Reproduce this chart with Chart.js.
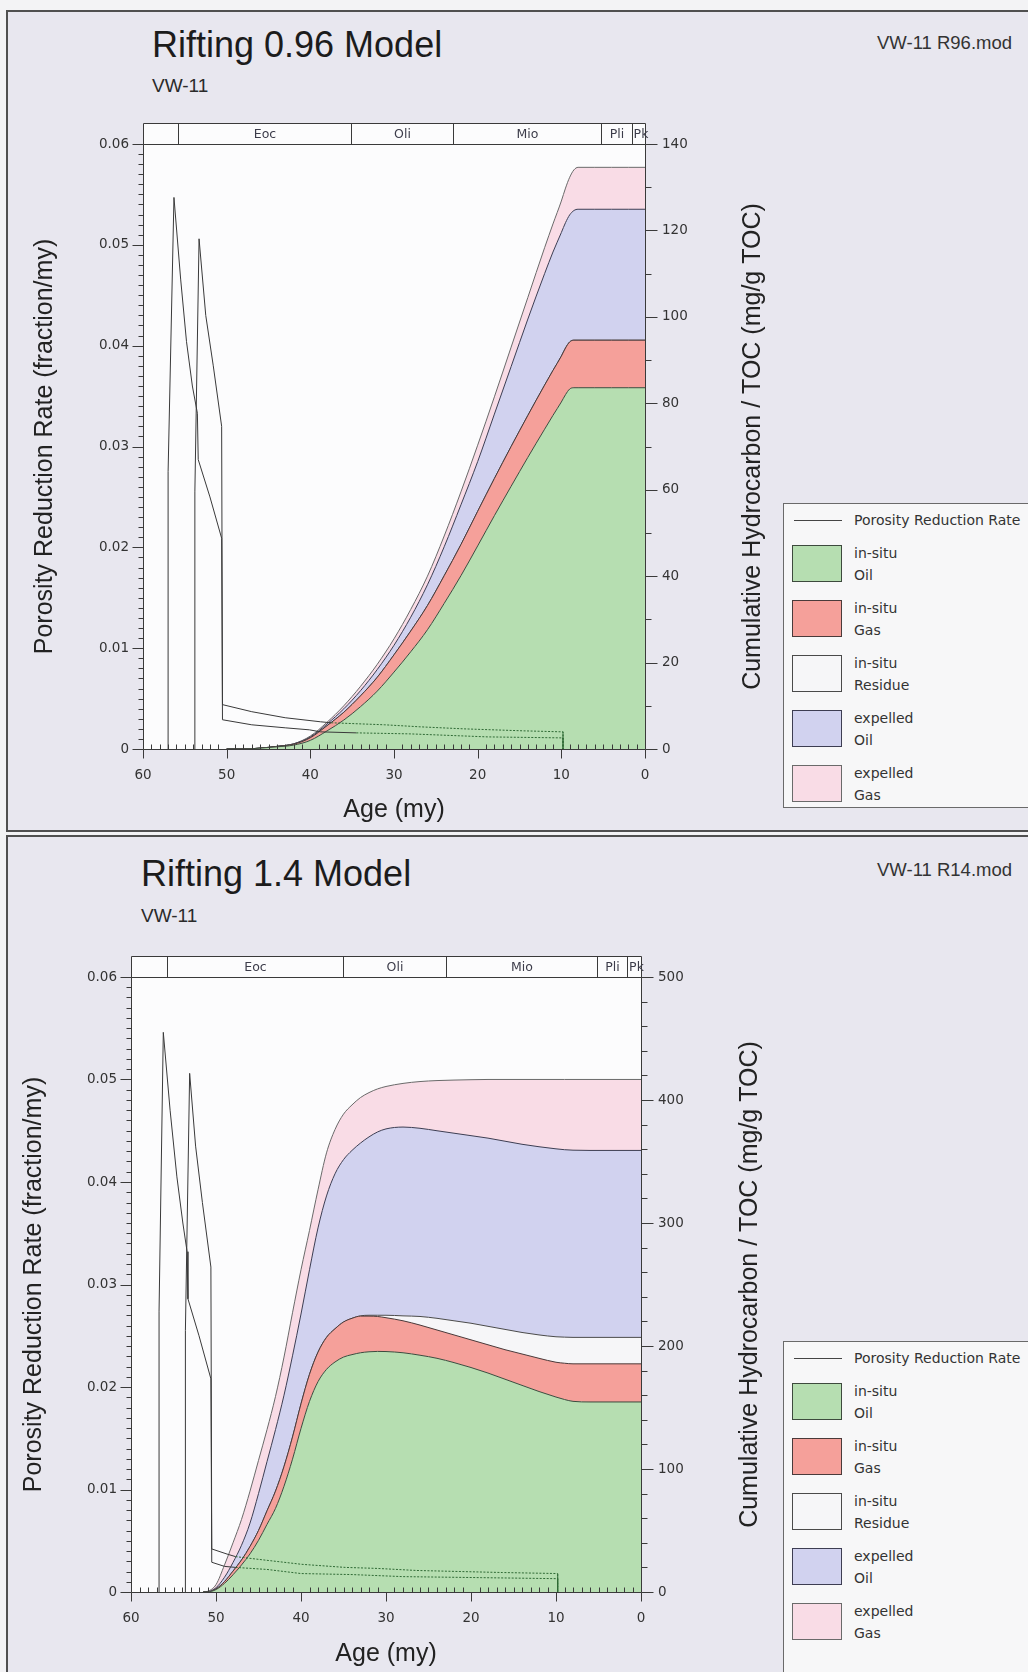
<!DOCTYPE html>
<html>
<head>
<meta charset="utf-8">
<title>VW-11 hydrocarbon generation</title>
<script src="https://cdn.jsdelivr.net/npm/chart.js@4.4.1/dist/chart.umd.min.js"></script>
<style>
  body { margin: 0; width: 1028px; height: 1672px; position: relative; overflow: hidden;
         background: #f3f3f5; font-family: "Liberation Sans", Arial, sans-serif; }
  .panel { position: absolute; left: 6px; width: 1040px; background: #e8e7ef;
           border: 2px solid #505050; box-sizing: border-box; }
  .title { position: absolute; font-size: 36px; color: #1c1c1c; white-space: nowrap; line-height: 1; }
  .well { position: absolute; font-size: 19px; color: #2a2a2a; line-height: 1; }
  .file { position: absolute; font-size: 18.5px; color: #333; line-height: 1; }
  canvas { position: absolute; left: 0; }
  .legend { position: absolute; left: 783px; width: 270px; background: #f7f7f8;
            border: 1px solid #6a6a6a; box-sizing: border-box;
            font-family: "DejaVu Sans", Verdana, sans-serif; font-size: 14px; color: #333; }
  .lg-line { position: absolute; left: 10px; top: 16px; width: 48px; border-top: 1px solid #444; }
  .lg-sw { position: absolute; left: 8px; width: 50px; height: 37px; border: 1px solid #555; box-sizing: border-box; }
  .lg-txt { position: absolute; left: 70px; line-height: 21.5px; white-space: nowrap; }
</style>
</head>
<body>
<div class="panel" style="top:10px;height:822px"></div>
<div class="panel" style="top:835px;height:860px"></div>

<div class="title" style="left:152px;top:27px">Rifting 0.96 Model</div>
<div class="well" style="left:152px;top:76px">VW-11</div>
<div class="file" style="left:877px;top:34px">VW-11 R96.mod</div>
<canvas id="chartR96" width="780" height="740" style="top:100px"></canvas>
<div class="legend" id="legendR96" style="top:503px;height:305px"></div>

<div class="title" style="left:141px;top:856px">Rifting 1.4 Model</div>
<div class="well" style="left:141px;top:906px">VW-11</div>
<div class="file" style="left:877px;top:861px">VW-11 R14.mod</div>
<canvas id="chartR14" width="780" height="742" style="top:930px"></canvas>
<div class="legend" id="legendR14" style="top:1341px;height:345px"></div>

<script>
// ---- shared axis / time scale data ----
const ageTicks = [60, 50, 40, 30, 20, 10, 0];
const rateTicks = [0, 0.01, 0.02, 0.03, 0.04, 0.05, 0.06];
const hcTicksR96 = [0, 20, 40, 60, 80, 100, 120, 140];
const hcTicksR14 = [0, 100, 200, 300, 400, 500];
const periodEdges = [60, 55.8, 35.1, 23.0, 5.2, 1.6, 0];
const periodNames = ['', 'Eoc', 'Oli', 'Mio', 'Pli', 'Pk'];
const layerNames = [['in-situ', 'Oil'], ['in-situ', 'Gas'], ['in-situ', 'Residue'], ['expelled', 'Oil'], ['expelled', 'Gas']];

// ---- Rifting 0.96 model: cumulative tops of each layer (mg/g TOC) ----
const ageR96 = [50, 48, 46, 44, 42, 40, 38, 36, 34, 32, 30, 28, 26, 24, 22, 20, 18, 16, 14, 12, 11, 10, 9.5, 9, 8.5, 8, 6, 4, 2, 0];
const inSituOilR96 = [0, 0, 0.2, 0.5, 0.9, 2.0, 4.2, 6.7, 9.8, 13.4, 17.8, 22.5, 27.6, 33.7, 40.1, 47.0, 54.0, 60.8, 67.5, 74.0, 77.2, 80.3, 82.0, 83.3, 83.6, 83.6, 83.6, 83.6, 83.6, 83.6];
const inSituGasR96 = [0, 0, 0.2, 0.6, 1.1, 2.6, 5.4, 8.5, 12.3, 16.6, 21.8, 27.3, 33.2, 40.1, 47.3, 55.0, 62.6, 70.0, 77.2, 84.2, 87.6, 90.9, 92.8, 94.2, 94.6, 94.6, 94.6, 94.6, 94.6, 94.6];
const inSituResidueR96 = [0, 0, 0.2, 0.6, 1.1, 2.6, 5.4, 8.5, 12.3, 16.6, 21.8, 27.3, 33.2, 40.1, 47.3, 55.0, 62.6, 70.0, 77.2, 84.2, 87.6, 90.9, 92.8, 94.2, 94.6, 94.6, 94.6, 94.6, 94.6, 94.6];
const expelledOilR96 = [0, 0, 0.2, 0.6, 1.2, 2.8, 5.8, 9.3, 13.5, 18.4, 24.0, 30.5, 38.0, 46.8, 56.5, 66.5, 77.5, 88.5, 99.5, 110.0, 115.0, 119.5, 121.8, 123.6, 124.6, 124.9, 124.9, 124.9, 124.9, 124.9];
const expelledGasR96 = [0, 0, 0.2, 0.6, 1.2, 3.0, 6.2, 10.0, 14.5, 19.6, 25.5, 32.3, 40.0, 49.3, 59.5, 70.3, 81.5, 93.0, 104.5, 116.0, 121.5, 126.8, 129.8, 132.3, 134.0, 134.6, 134.6, 134.6, 134.6, 134.6];
// porosity reduction rate (fraction/my), two layers
const porAgeR96a = [57.0, 57.0, 56.3, 55.5, 54.8, 54.1, 53.5, 53.4, 52.0, 50.6, 50.5, 47, 43, 40.1, 38.8, 34.5, 28.1, 18.8, 9.8, 9.8];
const porRateR96a = [0, 0.0275, 0.0547, 0.0466, 0.0404, 0.036, 0.0333, 0.0287, 0.025, 0.0209, 0.0029, 0.0024, 0.0021, 0.0019, 0.0017, 0.0016, 0.0015, 0.0012, 0.0011, 0];
const porAgeR96b = [53.8, 53.8, 53.3, 52.5, 51.6, 50.6, 50.5, 47, 43, 38.8, 37.5, 31.1, 26.9, 21.7, 14.5, 9.8, 9.8];
const porRateR96b = [0, 0.0255, 0.0506, 0.043, 0.038, 0.032, 0.0044, 0.0037, 0.0031, 0.0027, 0.0026, 0.0024, 0.0022, 0.002, 0.0018, 0.0017, 0];

// ---- Rifting 1.4 model ----
const ageR14 = [51.5, 51, 50, 49, 48, 47, 46, 45, 44, 43, 42, 41, 40, 39, 38, 37, 36, 35, 34, 33, 32, 31, 30, 28, 26, 24, 22, 20, 18, 16, 14, 12, 10, 9, 8, 6, 4, 2, 0];
const inSituOilR14 = [0, 0, 2, 7, 14, 22, 31, 42, 55, 68, 86, 108, 133, 155, 171, 181, 187, 191, 193, 194.5, 195.3, 195.6, 195.5, 194.5, 192.5, 190, 186.5, 182.5, 178, 173, 168, 163, 158.5, 156.5, 155, 154.5, 154.5, 154.5, 154.5];
const inSituGasR14 = [0, 0, 2.5, 8.5, 17, 26, 37, 50, 66, 82, 102, 126, 153, 177, 195, 207, 214, 219.5, 222.5, 224.3, 224.3, 224, 223, 220.5, 217, 213, 209, 205, 201, 197, 193.5, 190, 186.8, 186, 185.5, 185.5, 185.5, 185.5, 185.5];
const inSituResidueR14 = [0, 0, 2.5, 8.5, 17, 26, 37, 50, 66, 82, 102, 126, 153, 177, 195, 207, 214, 219.5, 222.5, 224.5, 225, 225, 225, 224.5, 224, 222.5, 220.5, 218.5, 216, 213.5, 211, 209, 207.5, 207.2, 207, 207, 207, 207, 207];
const expelledOilR14 = [0, 0.2, 3.5, 12, 24, 38, 56, 80, 106, 132, 160, 192, 226, 262, 296, 322, 340, 351.5, 359, 365, 370, 374, 376.5, 378, 377, 375, 373, 371, 369, 366.5, 364, 362, 360.3, 359.6, 359.2, 359, 359, 359, 359];
const expelledGasR14 = [0, 0.5, 6, 22, 40, 59, 82, 107, 132, 159, 191, 227, 262, 294, 327, 357, 376, 388.5, 396, 402, 406, 409, 411, 413.5, 415, 415.8, 416.2, 416.5, 416.7, 416.7, 416.7, 416.7, 416.7, 416.7, 416.7, 416.7, 416.7, 416.7, 416.7];
const porAgeR14a = [56.7, 56.7, 56.2, 55.4, 54.6, 53.9, 53.4, 53.3, 52.0, 50.6, 50.5, 49.0, 47.7, 44, 40, 34, 28, 18.8, 9.8, 9.8];
const porRateR14a = [0, 0.0274, 0.0546, 0.047, 0.0405, 0.036, 0.0332, 0.0286, 0.025, 0.0208, 0.0029, 0.0025, 0.0024, 0.0022, 0.0018, 0.0017, 0.0015, 0.0014, 0.0013, 0];
const porAgeR14b = [53.6, 53.6, 53.1, 52.4, 51.6, 50.6, 50.5, 48.7, 47.7, 44.1, 39.9, 34.8, 31, 26.4, 21.4, 16.3, 9.8, 9.8];
const porRateR14b = [0, 0.0255, 0.0506, 0.0435, 0.038, 0.0317, 0.0042, 0.0037, 0.00345, 0.0031, 0.0027, 0.0024, 0.0023, 0.0021, 0.002, 0.0019, 0.0018, 0];

// fill / outline colours of the stacked layers (bottom to top)
const layerFill = ['#b6deb1', '#f5a09a', '#f6f6f8', '#d1d2ef', '#f9dce6'];
const layerEdge = ['#3d4a3d', '#4a3a3a', '#4a4a4a', '#3d3d52', '#6a6a6a'];

const tickFont = { family: '"DejaVu Sans", Verdana, sans-serif', size: 13.5 };
const titleFont = { family: '"Liberation Sans", Arial, sans-serif', size: 25 };

// white plot background, period strip, tick marks, axis lines and the right title
const panelDecor = {
  id: 'panelDecor',
  beforeDraw(chart, args, o) {
    const { ctx, chartArea: a } = chart;
    ctx.save();
    ctx.fillStyle = '#fcfcfd';
    ctx.fillRect(a.left, a.top - o.barH, a.right - a.left, a.bottom - a.top + o.barH);
    ctx.restore();
  },
  afterDraw(chart, args, o) {
    const { ctx, chartArea: a, scales: { x, yL, yR } } = chart;
    ctx.save();
    ctx.strokeStyle = '#3a3a3a';
    ctx.lineWidth = 1;
    const px = v => Math.round(x.getPixelForValue(v)) + 0.5;
    const L = Math.round(a.left) + 0.5, R = Math.round(a.right) + 0.5;
    const T = Math.round(a.top) + 0.5, B = Math.round(a.bottom) + 0.5;

    // frame and geologic period strip
    ctx.beginPath();
    ctx.rect(L, T, R - L, B - T);
    ctx.rect(L, T - o.barH, R - L, o.barH);
    periodEdges.slice(1, -1).forEach(e => { ctx.moveTo(px(e), T - o.barH); ctx.lineTo(px(e), T); });
    ctx.stroke();
    ctx.fillStyle = '#3c3c4a';
    ctx.font = '12.5px "DejaVu Sans", Verdana, sans-serif';
    ctx.textAlign = 'center';
    ctx.textBaseline = 'middle';
    periodNames.forEach((n, i) => {
      if (!n) return;
      const x0 = px(periodEdges[i]), x1 = px(periodEdges[i + 1]);
      ctx.save();
      ctx.beginPath();
      ctx.rect(x0, T - o.barH, x1 - x0 + 3, o.barH);
      ctx.clip();
      ctx.fillText(n, (x0 + x1) / 2 + (x1 - x0 < 20 ? 2 : 0), T - o.barH / 2 + 1);
      ctx.restore();
    });

    // age ticks: minor inward, major outward
    ctx.beginPath();
    for (let i = 0; i <= 60; i++) {
      const p = px(i);
      if (i % 10 === 0) { ctx.moveTo(p, B); ctx.lineTo(p, B + 9); }
      else { ctx.moveTo(p, B); ctx.lineTo(p, B - 5); }
    }
    // porosity-rate ticks
    for (let i = 0; i <= 60; i++) {
      const p = Math.round(yL.getPixelForValue(i / 1000)) + 0.5;
      ctx.moveTo(L, p); ctx.lineTo(L - (i % 10 === 0 ? 11 : 5), p);
    }
    // hydrocarbon ticks
    const hcMax = yR.max;
    for (let v = 0; v <= hcMax; v += o.hcMinor) {
      const p = Math.round(yR.getPixelForValue(v)) + 0.5;
      const major = o.hcTicks.includes(v);
      ctx.moveTo(R, p); ctx.lineTo(R + (major ? 12 : 6), p);
    }
    ctx.stroke();

    // right axis title, reading bottom to top
    ctx.fillStyle = '#222';
    ctx.font = '25px "Liberation Sans", Arial, sans-serif';
    ctx.translate(o.rightTitleX, (a.top + a.bottom) / 2);
    ctx.rotate(-Math.PI / 2);
    ctx.fillText('Cumulative Hydrocarbon / TOC (mg/g TOC)', 0, 0);
    ctx.restore();
  }
};

function makeChart(p) {
  const points = (xs, ys) => xs.map((v, i) => ({ x: v, y: ys[i] }));
  const datasets = p.layers.map((layer, i) => ({
    label: layerNames[i].join(' '),
    data: points(p.ages, layer),
    yAxisID: 'yR',
    fill: i === 0 ? 'origin' : '-1',
    backgroundColor: layerFill[i],
    borderColor: layerEdge[i],
    borderWidth: 1,
    pointRadius: 0,
    cubicInterpolationMode: 'monotone',
    order: 2
  }));
  // the rate curves turn dotted once they run under the in-situ oil fill
  p.poro.forEach(([ages, rates]) => datasets.push({
    label: 'Porosity Reduction Rate',
    data: points(ages, rates),
    yAxisID: 'yL',
    fill: false,
    borderColor: '#3a3a3a',
    borderWidth: 1,
    pointRadius: 0,
    tension: 0,
    order: 1,
    segment: {
      borderColor: c => c.p0.parsed.x < p.dotBelow ? '#2f6a35' : undefined,
      borderDash: c => c.p0.parsed.x < p.dotBelow ? [2, 1.5] : undefined
    }
  }));

  const fixTicks = list => scale => { scale.ticks = list.map(v => ({ value: v })); };
  return new Chart(document.getElementById(p.canvas), {
    type: 'line',
    data: { datasets },
    options: {
      responsive: false,
      animation: false,
      devicePixelRatio: 1,
      layout: { padding: { top: p.padTop, left: 0, right: 0, bottom: 0 } },
      plugins: {
        legend: { display: false },
        tooltip: { enabled: false },
        panelDecor: { barH: p.barH, hcMinor: p.hcMinor, hcTicks: p.hcTicks, rightTitleX: p.rightTitleX }
      },
      scales: {
        x: {
          type: 'linear', reverse: true, min: 0, max: 60,
          afterBuildTicks: fixTicks(ageTicks),
          afterFit: s => { s.height = p.xHeight; },
          ticks: { padding: 18, color: '#333', font: tickFont, maxRotation: 0, autoSkip: false },
          grid: { display: false, drawTicks: false },
          border: { display: false },
          title: { display: true, text: 'Age (my)', color: '#222', font: titleFont, padding: { top: 0, bottom: p.xTitlePad } }
        },
        yL: {
          position: 'left', min: 0, max: 0.06,
          afterBuildTicks: fixTicks(rateTicks),
          afterFit: s => { s.width = p.leftWidth; },
          ticks: { padding: 14, color: '#333', font: tickFont, callback: v => v === 0 ? '0' : v.toFixed(2) },
          grid: { display: false, drawTicks: false },
          border: { display: false },
          title: { display: true, text: 'Porosity Reduction Rate (fraction/my)', color: '#222', font: titleFont, padding: { top: p.leftTitlePad, bottom: 0 } }
        },
        yR: {
          position: 'right', min: 0, max: p.hcTicks[p.hcTicks.length - 1],
          afterBuildTicks: fixTicks(p.hcTicks),
          afterFit: s => { s.width = p.rightWidth; },
          ticks: { padding: 17, color: '#333', font: tickFont },
          grid: { display: false, drawTicks: false },
          border: { display: false }
        }
      }
    },
    plugins: [panelDecor]
  });
}

function buildLegend(id) {
  let html = '<div class="lg-line"></div><div class="lg-txt" style="top:6px">Porosity Reduction Rate</div>';
  layerNames.forEach((n, i) => {
    const top = 41 + i * 55;
    html += `<div class="lg-sw" style="top:${top}px;background:${layerFill[i]};border-color:${layerEdge[i]}"></div>` +
            `<div class="lg-txt" style="top:${top - 2}px">${n[0]}<br>${n[1]}</div>`;
  });
  document.getElementById(id).innerHTML = html;
}

makeChart({
  canvas: 'chartR96', ages: ageR96,
  layers: [inSituOilR96, inSituGasR96, inSituResidueR96, expelledOilR96, expelledGasR96],
  poro: [[porAgeR96a, porRateR96a], [porAgeR96b, porRateR96b]],
  hcTicks: hcTicksR96, hcMinor: 10, dotBelow: 38.5,
  padTop: 44, leftWidth: 143, rightWidth: 135, xHeight: 91, barH: 21,
  leftTitlePad: 30, xTitlePad: 15, rightTitleX: 753
});
makeChart({
  canvas: 'chartR14', ages: ageR14,
  layers: [inSituOilR14, inSituGasR14, inSituResidueR14, expelledOilR14, expelledGasR14],
  poro: [[porAgeR14a, porRateR14a], [porAgeR14b, porRateR14b]],
  hcTicks: hcTicksR14, hcMinor: 20, dotBelow: 48,
  padTop: 47, leftWidth: 131, rightWidth: 139, xHeight: 80, barH: 21,
  leftTitlePad: 19, xTitlePad: 3, rightTitleX: 750
});
buildLegend('legendR96');
buildLegend('legendR14');
</script>
</body>
</html>
